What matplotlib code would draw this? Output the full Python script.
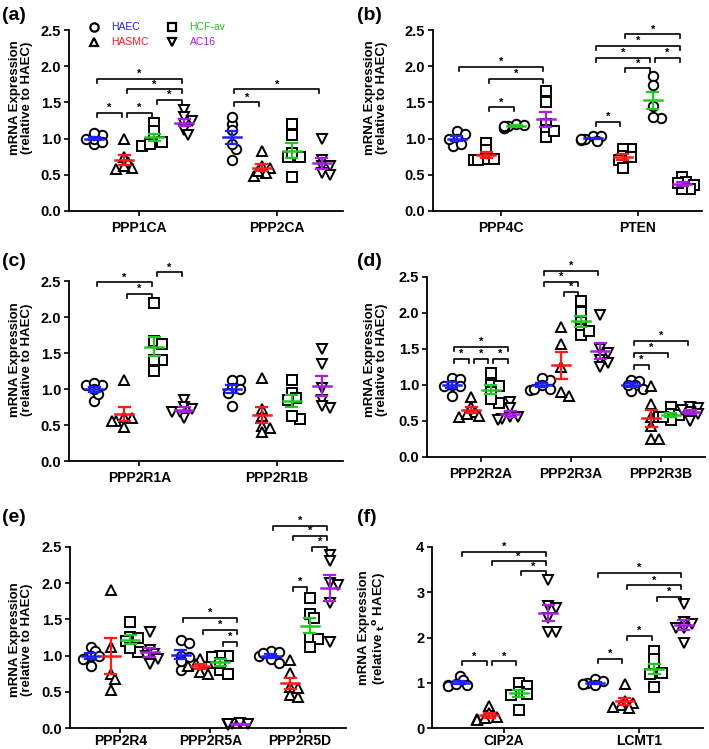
import numpy as np
import matplotlib
matplotlib.use("Agg")
import matplotlib.pyplot as plt

plt.rcParams['font.family'] = ['Liberation Sans', 'DejaVu Sans']
plt.rcParams['font.weight'] = 'bold'

cell_types = ["HAEC", "HASMC", "HCF-av", "AC16"]
colors = ["#1f1fff", "#ff1a1a", "#22c922", "#a71fe0"]
markers = ["o", "^", "s", "v"]

# panel (a)
a_genes = ["PPP1CA", "PPP2CA"]
a_haec = [[1.05, 0.92, 1.0, 1.08, 0.95, 1.0], [1.2, 1.3, 1.12, 0.71, 0.86, 0.93]]
a_hasmc = [[1.0, 0.75, 0.68, 0.6, 0.58, 0.62], [0.83, 0.62, 0.6, 0.52, 0.48, 0.55]]
a_hcf = [[1.22, 1.1, 1.0, 0.9, 0.95, 0.93], [1.2, 1.05, 0.75, 0.74, 0.47, 0.8]]
a_ac16 = [[1.4, 1.3, 1.25, 1.2, 1.12, 1.05], [0.99, 0.62, 0.62, 0.5, 0.52, 0.7]]
a_sig = [(0, 0, 3, 1.83), (0, 1, 3, 1.68), (0, 2, 3, 1.53), (0, 0, 1, 1.36),
         (0, 1, 2, 1.36), (1, 0, 3, 1.68), (1, 0, 1, 1.5)]

# panel (b)
b_genes = ["PPP4C", "PTEN"]
b_haec = [[1.1, 1.07, 1.0, 0.9, 0.93, 1.0], [1.04, 1.03, 0.98, 0.97, 1.0, 0.99]]
b_hasmc = [[0.94, 0.84, 0.72, 0.7, 0.7, 0.72], [0.85, 0.85, 0.76, 0.7, 0.59, 0.75]]
b_hcf = [[1.2, 1.18, 1.15, 1.14, 1.19, 1.17], [1.87, 1.74, 1.45, 1.28, 1.3]]
b_ac16 = [[1.66, 1.5, 1.2, 1.12, 1.02, 1.1], [0.47, 0.4, 0.36, 0.3, 0.3, 0.38]]
b_sig = [(0, 0, 3, 1.99), (0, 1, 3, 1.82), (0, 1, 2, 1.43), (1, 0, 1, 1.23),
         (1, 1, 2, 1.97), (1, 0, 2, 2.12), (1, 2, 3, 2.12), (1, 0, 3, 2.28),
         (1, 1, 3, 2.44)]
b_markers = ["o", "s", "o", "s"]

# panel (c)
c_genes = ["PPP2R1A", "PPP2R1B"]
c_haec = [[1.05, 1.06, 1.08, 0.84, 0.93, 1.0], [1.12, 1.12, 1.02, 0.95, 0.76, 1.0]]
c_hasmc = [[1.13, 0.6, 0.61, 0.56, 0.47, 0.55], [1.15, 0.72, 0.62, 0.48, 0.46, 0.4]]
c_hcf = [[2.19, 1.67, 1.62, 1.4, 1.4, 1.25], [1.12, 0.95, 0.88, 0.85, 0.58, 0.62]]
c_ac16 = [[0.85, 0.75, 0.72, 0.68, 0.6, 0.68], [1.56, 1.35, 1.02, 0.85, 0.73, 0.76]]
c_sig = [(0, 0, 2, 2.48), (0, 1, 2, 2.32), (0, 2, 3, 2.62)]

# panel (d)
d_genes = ["PPP2R2A", "PPP2R3A", "PPP2R3B"]
d_haec = [[1.1, 1.08, 0.98, 1.0, 0.85, 0.99], [1.07, 1.1, 1.0, 0.93, 0.95, 0.95],
          [1.07, 1.06, 1.0, 0.92, 0.95, 1.0]]
d_hasmc = [[0.84, 0.7, 0.63, 0.57, 0.56, 0.6], [1.81, 1.57, 1.25, 0.85, 0.9],
           [0.99, 0.74, 0.55, 0.43, 0.25, 0.25]]
d_hcf = [[1.17, 1.0, 0.98, 0.9, 0.75, 0.8], [2.17, 2.02, 1.88, 1.78, 1.7, 1.75],
         [0.7, 0.6, 0.58, 0.52, 0.55, 0.55]]
d_ac16 = [[0.76, 0.68, 0.56, 0.53, 0.52, 0.55], [1.97, 1.5, 1.45, 1.35, 1.25, 1.3],
          [0.7, 0.68, 0.62, 0.6, 0.5, 0.65]]
d_sig = [(0, 0, 3, 1.53), (0, 0, 1, 1.36), (0, 1, 2, 1.36), (0, 2, 3, 1.36),
         (1, 0, 3, 2.59), (1, 0, 2, 2.43), (1, 1, 2, 2.29), (2, 0, 3, 1.61),
         (2, 0, 2, 1.44), (2, 0, 1, 1.28)]

# panel (e)
e_genes = ["PPP2R4", "PPP2R5A", "PPP2R5D"]
e_haec = [[1.12, 1.06, 1.0, 1.0, 0.85, 0.95], [1.21, 1.18, 1.0, 0.98, 0.8, 0.92],
          [1.07, 1.05, 1.0, 0.95, 0.9, 1.03]]
e_hasmc = [[1.91, 1.12, 0.75, 0.68, 0.52], [0.95, 0.88, 0.85, 0.78, 0.75, 0.9],
           [0.94, 0.76, 0.57, 0.45, 0.43, 0.55]]
e_hcf = [[1.47, 1.26, 1.24, 1.2, 1.05, 1.1], [1.0, 1.0, 0.98, 0.8, 0.75, 0.9],
         [1.79, 1.58, 1.52, 1.25, 1.23, 1.12]]
e_ac16 = [[1.33, 1.08, 1.02, 1.0, 0.88, 0.95], [0.06, 0.05, 0.07, 0.04, 0.05, 0.06],
          [2.39, 2.3, 2.0, 1.98, 1.73, 1.19]]
e_sig = [(1, 0, 3, 1.52), (1, 1, 3, 1.35), (1, 2, 3, 1.19), (2, 0, 3, 2.79),
         (2, 1, 3, 2.65), (2, 2, 3, 2.5), (2, 1, 2, 1.95)]

# panel (f)
f_genes = ["CIP2A", "LCMT1"]
f_haec = [[1.15, 1.05, 0.95, 0.95, 0.92, 0.98], [1.08, 1.03, 1.0, 0.97, 0.95, 0.97]]
f_hasmc = [[0.48, 0.33, 0.25, 0.2, 0.18, 0.22], [0.98, 0.6, 0.55, 0.5, 0.45, 0.47]]
f_hcf = [[1.0, 0.92, 0.8, 0.75, 0.72, 0.4], [1.7, 1.53, 1.3, 1.2, 1.22, 0.9]]
f_ac16 = [[3.27, 2.7, 2.65, 2.42, 2.13, 2.13], [2.73, 2.35, 2.3, 2.2, 2.22, 1.88]]
f_sig = [(0, 0, 3, 3.89), (0, 1, 3, 3.68), (0, 2, 3, 3.46), (0, 0, 1, 1.47),
         (0, 1, 2, 1.47), (1, 0, 3, 3.43), (1, 1, 3, 3.15), (1, 2, 3, 2.9),
         (1, 1, 2, 2.03), (1, 0, 1, 1.52)]

W, H = 709, 749
fig = plt.figure(figsize=(W / 100, H / 100), dpi=100)
DIAM = 9.5  # marker diameter in px
OFFS = np.array([-1.5, -0.5, 0.5, 1.5]) * 0.218


def swarm(vals, ppx, ppy):
    """spread overlapping points sideways, prism style (overlap allowed)"""
    vals = np.asarray(vals)
    placed = []
    offs = np.zeros(len(vals))
    for i in np.argsort(vals)[::-1]:
        y = vals[i] * ppy
        for k in [0, 1, -1, 2, -2, 3, -3]:
            x = k * DIAM * 0.42
            if all((x - px) ** 2 + (y - py) ** 2 >= (DIAM * 0.6) ** 2 for px, py in placed):
                break
        placed.append((x, y))
        offs[i] = x / ppx
    return offs


def panel(box, label, genes, series, sig, xlim, ymax, mk=markers, ystep=0.5, xpad=4):
    left, top, right, bottom = box
    ax = fig.add_axes([left / W, 1 - bottom / H, (right - left) / W, (bottom - top) / H])
    ax.set_xlim(*xlim)
    ax.set_ylim(0, ymax)
    ppx = (right - left) / (xlim[1] - xlim[0])
    ppy = (bottom - top) / ymax
    for g in range(len(genes)):
        for c in range(4):
            vals = np.array(series[c][g])
            xc = g + OFFS[c]
            xs = xc + swarm(vals, ppx, ppy)
            ax.plot(xs, vals, ls='none', marker=mk[c], ms=6.8, mfc='white',
                    mec='black', mew=1.4, zorder=3, clip_on=False)
            m = vals.mean()
            sem = vals.std(ddof=1) / np.sqrt(len(vals))
            hw = 9 / ppx
            cw = 5.5 / ppx
            ax.plot([xc - hw, xc + hw], [m, m], color=colors[c], lw=1.8, zorder=4)
            ax.plot([xc, xc], [m - sem, m + sem], color=colors[c], lw=1.6, zorder=4)
            for yy in (m - sem, m + sem):
                ax.plot([xc - cw, xc + cw], [yy, yy], color=colors[c], lw=1.6, zorder=4)
    # significance brackets
    tick = 4 / ppy
    gap = 2.5 / ppx
    for g, i, j, y in sig:
        x1 = g + OFFS[i] + gap
        x2 = g + OFFS[j] - gap
        ax.plot([x1, x1, x2, x2], [y - tick, y, y, y - tick], color='black',
                lw=1.2, clip_on=False, zorder=5)
        ax.text((x1 + x2) / 2, y + 5 / ppy, '*', ha='center', va='center',
                fontsize=8, clip_on=False)
    for s in ['top', 'right']:
        ax.spines[s].set_visible(False)
    for s in ['left', 'bottom']:
        ax.spines[s].set_linewidth(1.3)
    ax.set_xticks(range(len(genes)))
    ax.set_xticklabels(genes, fontsize=10, fontweight='bold')
    yt = np.arange(0, ymax + 1e-9, ystep)
    ax.set_yticks(yt)
    if ystep < 1:
        ax.set_yticklabels(['%.1f' % v for v in yt], fontsize=10.5, fontweight='bold')
    else:
        ax.set_yticklabels(['%d' % v for v in yt], fontsize=10.5, fontweight='bold')
    ax.tick_params(axis='both', length=3.5, width=1.2, pad=2)
    ax.tick_params(axis='x', pad=xpad)
    fig.text(label[1] / W, 1 - label[2] / H, label[0], fontsize=14,
             fontweight='bold', ha='left', va='center')
    return ax


ax_a = panel((69, 30, 343, 211), ("(a)", 2, 15), a_genes,
             [a_haec, a_hasmc, a_hcf, a_ac16], a_sig, (-0.51, 1.48), 2.5)
ax_b = panel((433, 30, 702, 211), ("(b)", 357, 15), b_genes,
             [b_haec, b_hasmc, b_hcf, b_ac16], b_sig, (-0.5, 1.47), 2.5, mk=b_markers)
ax_c = panel((69, 281, 343, 461), ("(c)", 2, 262), c_genes,
             [c_haec, c_hasmc, c_hcf, c_ac16], c_sig, (-0.51, 1.48), 2.5)
ax_d = panel((427, 277, 705, 457), ("(d)", 357, 262), d_genes,
             [d_haec, d_hasmc, d_hcf, d_ac16], d_sig, (-0.6, 2.49), 2.5)
ax_e = panel((70, 547, 346, 728), ("(e)", 2, 518), e_genes,
             [e_haec, e_hasmc, e_hcf, e_ac16], e_sig, (-0.56, 2.51), 2.5, xpad=0.8)
ax_f = panel((432, 547, 703, 728), ("(f)", 357, 518), f_genes,
             [f_haec, f_hasmc, f_hcf, f_ac16], f_sig, (-0.53, 1.47), 4, ystep=1, xpad=0.8)

# y labels
ylab = "mRNA Expression\n(relative to HAEC)"
for x0, cy, txt in [(0, 98, ylab), (355, 98, ylab), (0, 360, ylab),
                    (355, 360, ylab), (0, 640, ylab),
                    (355, 628, "mRNA Expression\n(relative $_\\mathbf{t}$$^\\mathbf{o}$ HAEC)")]:
    fig.text((x0 + 33) / W, 1 - cy / H, txt, rotation=90, ha='right', va='center',
             multialignment='center', fontsize=9.5, fontweight='bold', linespacing=1.05)

# legend in panel (a)
for c, (lx, ly, tx) in enumerate([(0.091, 1.017, 0.152), (0.091, 0.934, 0.152),
                                   (0.376, 1.017, 0.44), (0.376, 0.934, 0.44)]):
    ax_a.plot([lx], [ly], transform=ax_a.transAxes, marker=markers[c], ms=6,
              mfc='white', mec='black', mew=1.6, ls='none', clip_on=False)
    ax_a.text(tx, ly, cell_types[c], transform=ax_a.transAxes, color=colors[c],
              fontsize=7.5, fontweight='normal', va='center', ha='left')

fig.savefig("out.png", dpi=100)
